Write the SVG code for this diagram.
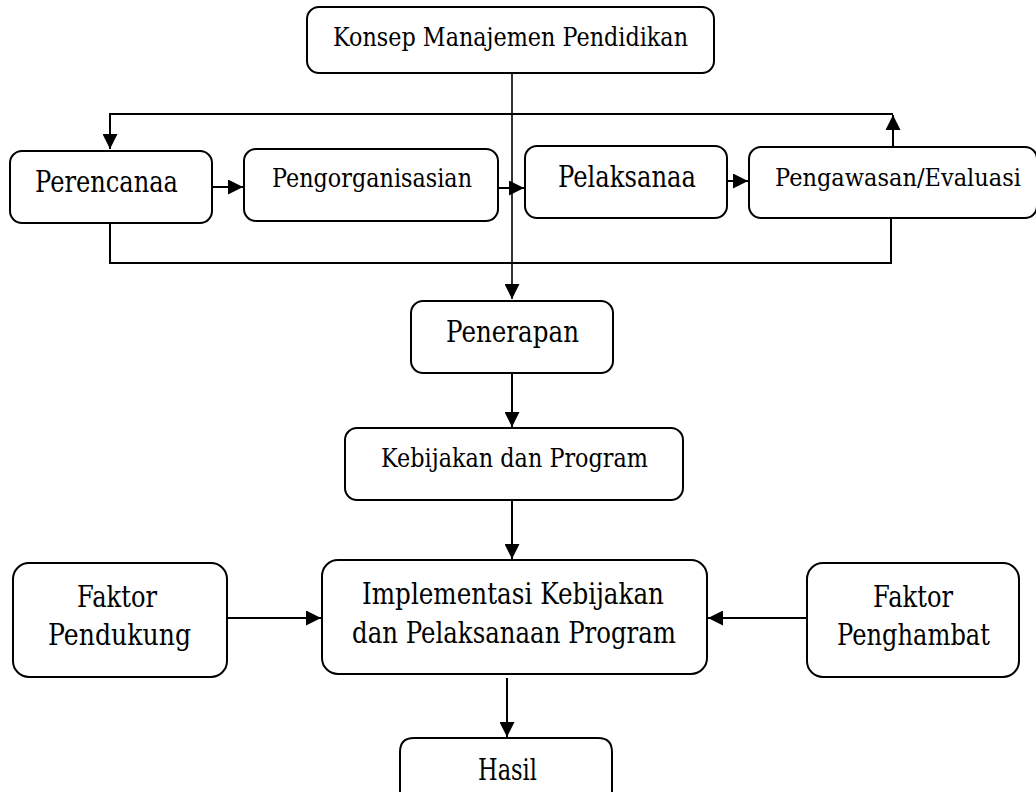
<svg xmlns="http://www.w3.org/2000/svg" width="1036" height="802" viewBox="0 0 1036 802">
<style>
.box{fill:#fff;stroke:#000;stroke-width:2}
.t{font-family:"DejaVu Serif","Liberation Serif",serif;fill:#000}
.c{fill:none;stroke:#000;stroke-width:2}
.thin{fill:none;stroke:#000;stroke-width:1.6}
</style>
<defs>
<marker id="ah" markerUnits="userSpaceOnUse" markerWidth="16" markerHeight="15" refX="15" refY="7.5" orient="auto">
<path d="M0,0 L15,7.5 L0,15 z" fill="#000"/>
</marker>
</defs>
<rect width="1036" height="802" fill="#fff"/>
<g id="connectors">
<path class="thin" d="M512,73 V299" marker-end="url(#ah)"/>
<path class="c" d="M893,147 V115" marker-end="url(#ah)"/>
<path class="c" d="M893,114 H110 V149" marker-end="url(#ah)"/>
<path class="c" d="M110,223 V263 H891 V218"/>
<path class="c" d="M212,187 H243" marker-end="url(#ah)"/>
<path class="c" d="M498,188 H524" marker-end="url(#ah)"/>
<path class="c" d="M727,181 H748" marker-end="url(#ah)"/>
<path class="c" d="M512,373 V427" marker-end="url(#ah)"/>
<path class="c" d="M512,500 V559" marker-end="url(#ah)"/>
<path class="c" d="M227,618 H321" marker-end="url(#ah)"/>
<path class="c" d="M807,618 H708" marker-end="url(#ah)"/>
<path class="c" d="M507,678 V737" marker-end="url(#ah)"/>
</g>
<g id="konsep">
<rect class="box" x="307" y="7" width="407" height="66" rx="12"/>
<text class="t" x="333" y="46" font-size="26" textLength="355" lengthAdjust="spacingAndGlyphs">Konsep Manajemen Pendidikan</text>
</g>
<g id="perencanaan">
<rect class="box" x="10" y="151" width="202" height="72" rx="12"/>
<text class="t" x="35" y="192" font-size="30" textLength="143" lengthAdjust="spacingAndGlyphs">Perencanaa</text>
</g>
<g id="pengorganisasian">
<rect class="box" x="244" y="149" width="254" height="72" rx="12"/>
<text class="t" x="272" y="187" font-size="26" textLength="200" lengthAdjust="spacingAndGlyphs">Pengorganisasian</text>
</g>
<g id="pelaksanaan">
<rect class="box" x="525" y="146" width="202" height="72" rx="12"/>
<text class="t" x="558" y="187" font-size="30" textLength="138" lengthAdjust="spacingAndGlyphs">Pelaksanaa</text>
</g>
<g id="pengawasan">
<rect class="box" x="749" y="147" width="288" height="71" rx="12"/>
<text class="t" x="775" y="186" font-size="23.5" textLength="246" lengthAdjust="spacingAndGlyphs">Pengawasan/Evaluasi</text>
</g>
<g id="penerapan">
<rect class="box" x="411" y="301" width="202" height="72" rx="12"/>
<text class="t" x="446" y="342" font-size="29" textLength="133" lengthAdjust="spacingAndGlyphs">Penerapan</text>
</g>
<g id="kebijakan">
<rect class="box" x="345" y="428" width="338" height="72" rx="12"/>
<text class="t" x="381" y="467" font-size="26" textLength="267" lengthAdjust="spacingAndGlyphs">Kebijakan dan Program</text>
</g>
<g id="implementasi">
<rect class="box" x="322" y="560" width="385" height="114" rx="16"/>
<text class="t" x="362" y="604" font-size="29" textLength="302" lengthAdjust="spacingAndGlyphs">Implementasi Kebijakan</text>
<text class="t" x="352" y="643" font-size="29" textLength="324" lengthAdjust="spacingAndGlyphs">dan Pelaksanaan Program</text>
</g>
<g id="pendukung">
<rect class="box" x="13" y="563" width="214" height="114" rx="16"/>
<text class="t" x="77" y="607" font-size="29" textLength="80" lengthAdjust="spacingAndGlyphs">Faktor</text>
<text class="t" x="48" y="645" font-size="29" textLength="143" lengthAdjust="spacingAndGlyphs">Pendukung</text>
</g>
<g id="penghambat">
<rect class="box" x="807" y="563" width="212" height="114" rx="16"/>
<text class="t" x="873" y="607" font-size="29" textLength="80" lengthAdjust="spacingAndGlyphs">Faktor</text>
<text class="t" x="837" y="645" font-size="29" textLength="153" lengthAdjust="spacingAndGlyphs">Penghambat</text>
</g>
<g id="hasil">
<path class="box" d="M400,792 V752 Q400,738 414,738 H598 Q612,738 612,752 V792"/>
<text class="t" x="478" y="780" font-size="29" textLength="59" lengthAdjust="spacingAndGlyphs">Hasil</text>
</g>
</svg>
